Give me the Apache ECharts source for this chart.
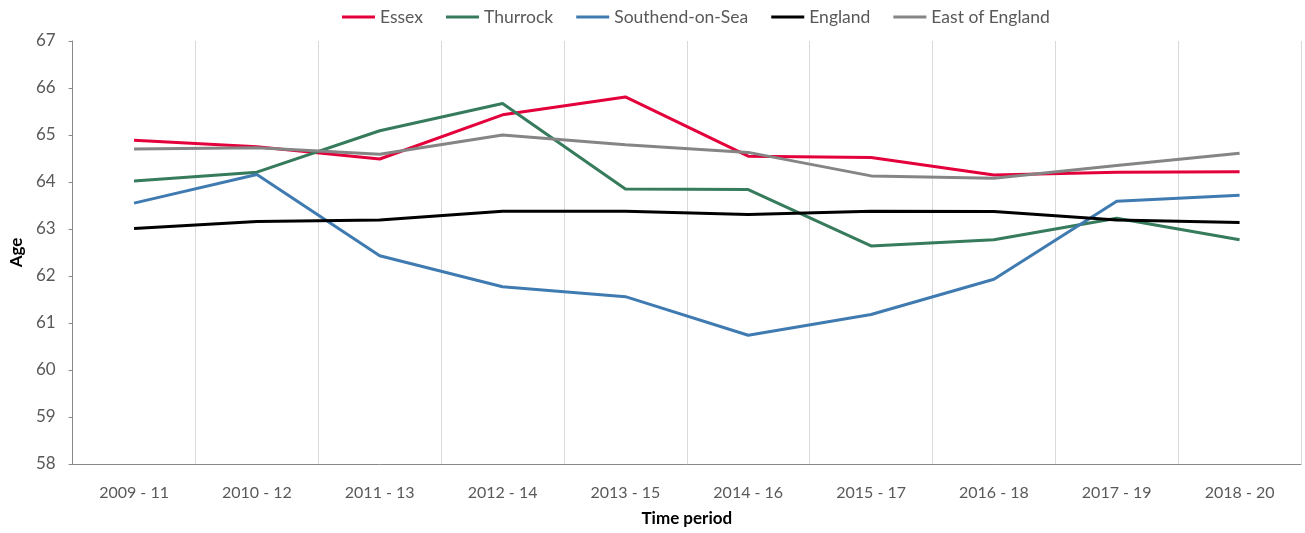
<!DOCTYPE html>
<html>
<head>
<meta charset="utf-8">
<script src="https://cdn.jsdelivr.net/npm/echarts@6/dist/echarts.min.js"></script>
<style>html,body{margin:0;padding:0;background:#fff}#c{width:1305px;height:533px}</style>
</head>
<body>
<div id="c"></div>
<script>
const categories = ['2009 - 11','2010 - 12','2011 - 13','2012 - 14','2013 - 15','2014 - 16','2015 - 17','2016 - 18','2017 - 19','2018 - 20'];
const essex      = [64.89, 64.75, 64.49, 65.43, 65.81, 64.55, 64.52, 64.15, 64.21, 64.22];
const thurrock   = [64.02, 64.21, 65.09, 65.67, 63.85, 63.84, 62.64, 62.77, 63.23, 62.77];
const southend   = [63.55, 64.16, 62.43, 61.77, 61.56, 60.74, 61.18, 61.93, 63.59, 63.72];
const england    = [63.01, 63.16, 63.19, 63.38, 63.38, 63.31, 63.38, 63.37, 63.19, 63.14];
const eastEngland= [64.70, 64.73, 64.59, 65.00, 64.79, 64.63, 64.13, 64.08, 64.35, 64.61];

const FONT = 'Lato, "Open Sans", sans-serif';
function line(name, data, color) {
  return { name, type: 'line', data, showSymbol: false, symbol: 'none',
    lineStyle: { color, width: 3 }, itemStyle: { color } };
}
const chart = echarts.init(document.getElementById('c'));
chart.setOption({
  animation: false,
  textStyle: { fontFamily: FONT },
  legend: {
    top: 3, left: 337, icon: 'rect', itemWidth: 33, itemHeight: 3, itemGap: 23,
    textStyle: { color: '#595959', fontSize: 17.5, fontFamily: FONT }
  },
  grid: { left: 70, right: 4, top: 41, bottom: 69 },
  xAxis: {
    type: 'category', data: categories, boundaryGap: true,
    name: 'Time period', nameLocation: 'middle', nameGap: 46,
    nameTextStyle: { color: '#000', fontWeight: 'bold', fontSize: 17, fontFamily: FONT },
    axisLine: { lineStyle: { color: '#898989', width: 1 } },
    axisTick: { show: false },
    axisLabel: { color: '#595959', fontSize: 16, margin: 21, fontFamily: FONT },
    splitLine: { show: true, lineStyle: { color: '#d9d9d9', width: 1 } }
  },
  yAxis: {
    type: 'value', min: 58, max: 67, interval: 1,
    name: 'Age', nameLocation: 'middle', nameGap: 45,
    nameTextStyle: { color: '#000', fontWeight: 'bold', fontSize: 17, fontFamily: FONT },
    axisLine: { show: true, lineStyle: { color: '#898989', width: 1 } },
    axisTick: { show: true, length: 4, lineStyle: { color: '#898989' } },
    axisLabel: { color: '#595959', fontSize: 17, margin: 17, fontFamily: FONT },
    splitLine: { show: false }
  },
  series: [
    line('Essex', essex, '#e4003b'),
    line('Thurrock', thurrock, '#357b5c'),
    line('Southend-on-Sea', southend, '#3f7bb1'),
    line('England', england, '#000000'),
    line('East of England', eastEngland, '#858585')
  ]
});
</script>
</body>
</html>
